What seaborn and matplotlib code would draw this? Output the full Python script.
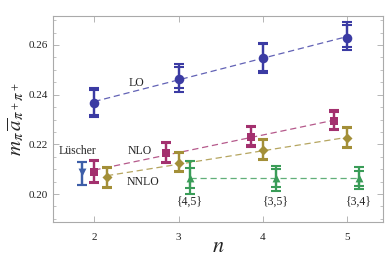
import numpy as np
import pandas as pd
import matplotlib
matplotlib.use("Agg")
import matplotlib.pyplot as plt
import seaborn as sns
from matplotlib.ticker import MultipleLocator

# values: position, central value, inner and outer error bars
lo_x = [2.0, 3.0, 4.0, 5.0]
lo_y = [0.2368, 0.2465, 0.2549, 0.2630]
lo_lo_in = [0.2318, 0.2428, 0.2497, 0.2590]
lo_hi_in = [0.2420, 0.2513, 0.2602, 0.2679]
lo_lo_out = [0.2311, 0.2412, 0.2489, 0.2578]
lo_hi_out = [0.2428, 0.2525, 0.2610, 0.2691]

nlo_x = [2.0, 2.85, 3.86, 4.85]
nlo_y = [0.2089, 0.2166, 0.2230, 0.2293]
nlo_lo_in = [0.2050, 0.2130, 0.2196, 0.2262]
nlo_hi_in = [0.2131, 0.2204, 0.2269, 0.2330]
nlo_lo_out = [0.2044, 0.2125, 0.2190, 0.2257]
nlo_hi_out = [0.2137, 0.2210, 0.2275, 0.2337]

nnlo_x = [2.15, 3.0, 4.0, 5.0]
nnlo_y = [0.2069, 0.2125, 0.2178, 0.2224]
nnlo_lo_in = [0.2030, 0.2094, 0.2142, 0.2191]
nnlo_hi_in = [0.2103, 0.2164, 0.2216, 0.2265]
nnlo_lo_out = [0.2024, 0.2089, 0.2137, 0.2186]
nnlo_hi_out = [0.2109, 0.2170, 0.2222, 0.2271]

lus_x = [1.85]
lus_y = [0.2089]
lus_lo = [0.2036]
lus_hi = [0.2129]

pair_x = [3.14, 4.16, 5.15]
pair_y = [0.2065, 0.2065, 0.2065]
pair_lo_in = [0.2024, 0.2028, 0.2032]
pair_hi_in = [0.2105, 0.2101, 0.2093]
pair_lo_out = [0.2000, 0.2012, 0.2020]
pair_hi_out = [0.2133, 0.2113, 0.2109]
pair_labels = ["{4,5}", "{3,5}", "{3,4}"]

c_lo = "#3b3ba3"
c_nlo = "#a3306e"
c_nnlo = "#a38f38"
c_lus = "#3d5ea8"
c_pair = "#3a9c58"

sns.set_style("ticks")
plt.rcParams['font.family'] = ['Liberation Serif', 'DejaVu Serif']
plt.rcParams['mathtext.fontset'] = 'stix'

fig = plt.figure(figsize=(3.88, 2.61), dpi=100)
ax = fig.add_axes([0.137, 0.149, 0.850, 0.790])


def draw_series(x, y, lo_in, hi_in, lo_out, hi_out, color, marker, ms):
    x = np.array(x)
    y = np.array(y)
    for lo, hi in [(lo_out, hi_out), (lo_in, hi_in)]:
        err = [y - np.array(lo), np.array(hi) - y]
        ax.errorbar(x, y, yerr=err, fmt="none", ecolor=color, elinewidth=1.6,
                    capsize=3.3, capthick=1.5, zorder=3)
    df = pd.DataFrame({"x": x, "y": y})
    sns.scatterplot(data=df, x="x", y="y", color=color, marker=marker, s=ms,
                    edgecolor=color, linewidth=0, ax=ax, zorder=4)


def fit_line(x, y, color):
    df = pd.DataFrame({"x": x, "y": y})
    sns.regplot(data=df, x="x", y="y", scatter=False, ci=None, truncate=True, ax=ax,
                line_kws=dict(color=color, lw=0.9, ls=(0, (5, 3)), alpha=0.8))


fit_line(lo_x, lo_y, c_lo)
fit_line(nlo_x, nlo_y, c_nlo)
fit_line(nnlo_x, nnlo_y, c_nnlo)
fit_line(pair_x, pair_y, c_pair)

draw_series(lo_x, lo_y, lo_lo_in, lo_hi_in, lo_lo_out, lo_hi_out, c_lo, "o", 48)
draw_series(nlo_x, nlo_y, nlo_lo_in, nlo_hi_in, nlo_lo_out, nlo_hi_out, c_nlo, "s", 34)
draw_series(nnlo_x, nnlo_y, nnlo_lo_in, nnlo_hi_in, nnlo_lo_out, nnlo_hi_out, c_nnlo, "D", 26)
draw_series(lus_x, lus_y, lus_lo, lus_hi, lus_lo, lus_hi, c_lus, "v", 32)
draw_series(pair_x, pair_y, pair_lo_in, pair_hi_in, pair_lo_out, pair_hi_out, c_pair, "^", 32)

ax.text(2.5, 0.2445, "LO", fontsize=8.5, ha="center", va="center")
ax.text(2.54, 0.2174, "NLO", fontsize=8.5, ha="center", va="center")
ax.text(2.58, 0.2048, "NNLO", fontsize=8.5, ha="center", va="center")
ax.text(1.80, 0.2174, "Lüscher", fontsize=8.5, ha="center", va="center")
for px, lab in zip(pair_x, pair_labels):
    ax.text(px, 0.1970, lab, fontsize=8.5, ha="center", va="center")

ax.set_xlim(1.51, 5.43)
ax.set_ylim(0.1887, 0.2717)
ax.set_xticks([2, 3, 4, 5])
ax.set_yticks([0.20, 0.22, 0.24, 0.26])
ax.set_yticklabels(["0.20", "0.22", "0.24", "0.26"])
ax.yaxis.set_minor_locator(MultipleLocator(0.005))
ax.tick_params(which="both", direction="in", top=True, right=True, colors="#aaaaaa",
               labelcolor="#222222", labelsize=8)
ax.tick_params(which="major", length=4, width=0.6)
ax.tick_params(which="minor", length=2, width=0.5)
ax.tick_params(axis="x", pad=8)
for sp in ax.spines.values():
    sp.set_color("#aaaaaa")
    sp.set_linewidth(0.8)

ax.set_xlabel("$n$", fontsize=16, labelpad=-3)
ax.set_ylabel(r"$m_{\pi}\,\overline{a}_{\pi^+\pi^+}$", fontsize=15, labelpad=2)

fig.savefig("out.png", dpi=100)
